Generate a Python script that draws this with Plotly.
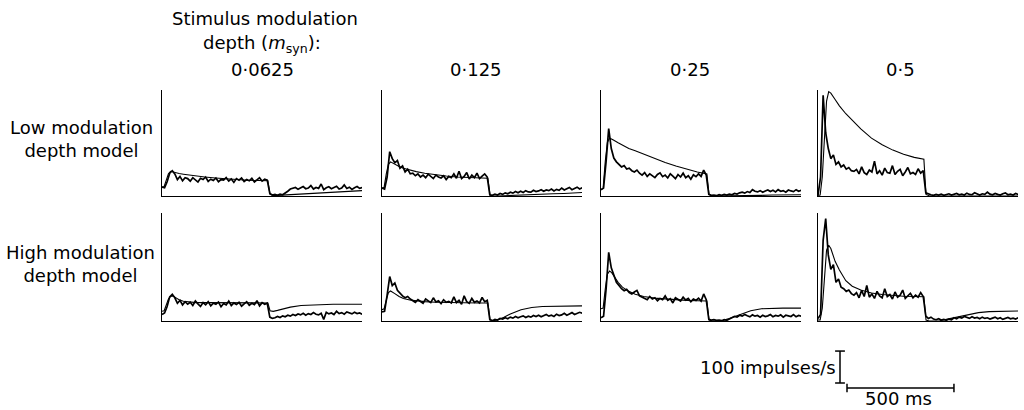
import plotly.graph_objects as go

W, H = 1024, 410

# ---------------- data ----------------
T_MS = list(range(0, 937, 12))  # 12-ms PSTH bins (79)
MODEL_T = [0, 10, 20, 30, 40, 50, 60, 80, 100, 130, 160, 200, 250, 300, 350,
           400, 450, 495, 505, 520, 540, 570, 600, 650, 700, 750, 800, 850, 900, 936]

DEPTHS = ["0·0625", "0·125", "0·25", "0·5"]
ROW_LABELS = ["Low modulation<br>depth model", "High modulation<br>depth model"]

# measured PSTHs (impulses/s), low-model row
N11 = [28, 26, 45, 72, 80, 70, 52, 62, 48, 58,
       55, 47, 58, 50, 44, 56, 52, 60, 46, 53, 49, 57, 45, 52, 50, 58, 47, 54, 43, 55,
       50, 57, 46, 52, 48, 56, 44, 51, 58, 47, 53, 50,
       8, 3, 5, 2, 6, 4, 9, 15, 22,
       24, 27, 21, 26, 30, 23, 25, 33, 22, 27, 24, 38, 20, 26, 29, 23, 27, 31, 22, 25,
       35, 24, 28, 21, 26, 30, 24, 27]
N12 = [25, 22, 60, 140, 118, 105, 112, 88, 95, 76, 85, 70,
       72, 64, 70, 60, 66, 58, 69, 62, 55, 66, 60, 57, 64, 52, 62, 58, 70, 56, 78, 55,
       62, 74, 54, 66, 58, 72, 55, 63, 70, 60,
       4, 2, 6, 3, 8, 5, 10, 7, 12, 9, 14, 10, 15, 11, 17, 13, 12, 18, 14, 16,
       20, 15, 19, 17, 22, 16, 21, 18, 25, 19, 23, 27, 20, 24, 28, 22, 26]
N13 = [20, 25, 110, 213, 150, 120, 108, 100, 92, 96, 85, 88, 80, 76, 82,
       72, 66, 74, 62, 70, 64, 58, 68, 73, 61, 66, 57, 70, 63, 55, 68, 60, 72, 58, 64,
       53, 67, 61, 70, 62, 82, 66,
       5, 2, 3, 1, 4, 2, 5, 3, 6, 4, 8, 6, 10, 12, 9, 14, 11, 20, 15, 13,
       17, 12, 16, 19, 14, 18, 13, 20, 15, 17, 12, 19, 16, 14, 20, 15, 18]
N14 = [3, 60, 318, 200, 150, 118, 130, 100, 108, 92, 98, 85, 90, 80,
       78, 84, 70, 92, 74, 68, 82, 76, 110, 70, 80, 66, 88, 74, 72, 96, 68, 78, 84, 64,
       76, 90, 70, 74, 68, 86, 72, 80,
       10, 6, 4, 2, 5, 3, 6, 2, 4, 7, 3, 5, 8, 4, 6, 3, 9, 5, 4, 10,
       6, 3, 7, 5, 12, 6, 4, 8, 5, 3, 7, 10, 4, 6, 3, 8, 5]
# measured PSTHs, high-model row
N21 = [20, 25, 45, 75, 83, 72, 55, 64, 50, 60, 52,
       58, 48, 62, 53, 45, 57, 50, 60, 47, 55, 52, 59, 44, 54, 50, 62, 48, 56, 51, 58,
       46, 53, 60, 49, 55, 51, 63, 47, 57, 52, 55,
       12, 8, 10, 14, 11, 16, 13, 18, 15, 20, 17, 22, 19, 24, 18, 23, 20, 26, 21, 19,
       24, 5, 27, 22, 25, 20, 30, 23, 26, 21, 28, 24, 22, 27, 23, 25, 21]
N22 = [28, 30, 80, 138, 110, 118, 95, 85, 78, 72, 76, 68,
       64, 58, 66, 60, 55, 68, 62, 57, 72, 59, 63, 54, 66, 58, 61, 56, 75, 57, 64, 52,
       78, 60, 55, 70, 58, 62, 56, 73, 60, 64,
       4, 1, 5, 3, 8, 6, 10, 7, 12, 9, 14, 10, 13, 16, 11, 15, 12, 17, 14, 18,
       13, 16, 20, 15, 18, 14, 21, 17, 19, 24, 18, 22, 26, 20, 23, 27, 24]
N23 = [10, 15, 100, 213, 165, 140, 120, 110, 100, 94, 98, 88, 84, 90, 95, 78,
       74, 70, 66, 76, 68, 72, 63, 70, 66, 78, 64, 69, 56, 72, 67, 62, 74, 65, 70, 60,
       68, 64, 71, 62, 84, 66,
       5, 3, 4, 2, 3, 1, 4, 2, 6, 10, 14, 12, 18, 15, 20, 16, 13, 19, 15, 17,
       12, 18, 14, 16, 20, 13, 17, 15, 19, 12, 18, 16, 14, 20, 13, 17, 15]
N24 = [8, 20, 250, 318, 205, 160, 175, 120, 130, 105, 100, 92, 96, 85,
       80, 88, 72, 95, 76, 110, 74, 84, 70, 92, 78, 72, 100, 76, 82, 68, 90, 74, 80, 96,
       70, 78, 86, 72, 80, 74, 88, 76,
       15, 8, 12, 6, 4, 7, 3, 5, 2, 6, 4, 10, 7, 12, 9, 14, 10, 8, 13, 9,
       11, 7, 12, 8, 10, 6, 9, 12, 7, 10, 5, 8, 11, 7, 9, 6, 10]

# model predictions (impulses/s) at MODEL_T
M11 = [28, 30, 50, 70, 78, 76, 74, 71, 69, 66, 63, 60, 57, 54, 52, 50, 49, 48, 5, 2,
       2, 3, 4, 6, 8, 10, 12, 14, 16, 17]
M12 = [25, 28, 70, 100, 108, 104, 100, 93, 88, 82, 77, 72, 67, 63, 60, 58, 57, 56, 3, 0,
       0, 1, 2, 3, 4, 5, 7, 8, 10, 11]
M13 = [20, 25, 110, 170, 183, 180, 176, 168, 160, 150, 143, 132, 118, 106, 95, 85, 76, 70, 5, 0,
       0, 0, 1, 1, 2, 2, 3, 3, 4, 4]
M14 = [2, 3, 60, 200, 300, 330, 325, 305, 285, 260, 238, 212, 183, 162, 145, 132, 122, 116, 5, 1,
       0, 0, 0, 0, 0, 0, 0, 0, 0, 0]
M21 = [30, 32, 50, 68, 76, 78, 74, 66, 61, 58, 57, 57, 57, 56, 56, 56, 56, 56, 32, 30,
       33, 38, 43, 48, 50, 51, 52, 52, 52, 52]
M22 = [35, 38, 65, 88, 93, 90, 85, 76, 70, 65, 62, 60, 58, 57, 57, 56, 56, 56, 5, 1,
       3, 12, 22, 35, 42, 45, 46, 47, 47, 47]
M23 = [38, 40, 100, 145, 155, 150, 140, 120, 105, 92, 83, 76, 71, 68, 66, 64, 63, 62, 3, 0,
       0, 2, 8, 20, 32, 38, 40, 40, 40, 40]
M24 = [3, 3, 40, 140, 220, 235, 225, 185, 158, 125, 108, 96, 87, 82, 79, 77, 76, 75, 3, 0,
       0, 1, 5, 12, 20, 26, 29, 30, 31, 31]

MEASURED = [[N11, N12, N13, N14], [N21, N22, N23, N24]]
MODEL = [[M11, M12, M13, M14], [M21, M22, M23, M24]]

SCALE_RATE = 100   # impulses/s
SCALE_TIME = 500   # ms

# ---------------- layout geometry (pixels) ----------------
X_MAX = 935.0
Y_MAX = 335.0
PANEL_LEFT = [162, 382, 601, 818]
PANEL_W = 200
ROW_TB = [(90, 196), (213, 321)]
ROW_H = 107

FONT = "DejaVu Sans"


def px_x(p):
    return p / W


def px_y(p):
    return 1 - p / H


fig = go.Figure()
layout = dict(width=W, height=H, margin=dict(l=0, r=0, t=0, b=0),
              paper_bgcolor="white", plot_bgcolor="white", showlegend=False)

k = 0
for r in range(2):
    top, bot = ROW_TB[r]
    for c in range(4):
        k += 1
        xa = "x" if k == 1 else f"x{k}"
        ya = "y" if k == 1 else f"y{k}"
        xl = "xaxis" if k == 1 else f"xaxis{k}"
        yl = "yaxis" if k == 1 else f"yaxis{k}"
        x0 = PANEL_LEFT[c]
        layout[xl] = dict(domain=[px_x(x0), px_x(x0 + PANEL_W)], range=[0, X_MAX],
                          anchor=ya, showline=True, linecolor="black", linewidth=1,
                          showgrid=False, zeroline=False, showticklabels=False, ticks="")
        layout[yl] = dict(domain=[px_y(bot), px_y(top)], range=[0, Y_MAX],
                          anchor=xa, showline=True, linecolor="black", linewidth=1,
                          showgrid=False, zeroline=False, showticklabels=False, ticks="")
        fig.add_trace(go.Scatter(x=MODEL_T, y=MODEL[r][c], mode="lines", xaxis=xa, yaxis=ya,
                                 line=dict(color="black", width=1.1), hoverinfo="skip"))
        fig.add_trace(go.Scatter(x=T_MS, y=MEASURED[r][c], mode="lines", xaxis=xa, yaxis=ya,
                                 line=dict(color="black", width=1.7), hoverinfo="skip"))

# scale-bar axis, same pixel scale as panels
SB_L, SB_R, SB_T, SB_B = 820, 1020, 340, 400
layout["xaxis9"] = dict(domain=[px_x(SB_L), px_x(SB_R)],
                        range=[0, X_MAX * (SB_R - SB_L) / PANEL_W], anchor="y9", visible=False)
layout["yaxis9"] = dict(domain=[px_y(SB_B), px_y(SB_T)],
                        range=[0, Y_MAX * (SB_B - SB_T) / ROW_H], anchor="x9", visible=False)
ms_per_px = X_MAX / PANEL_W
rate_per_px = Y_MAX / ROW_H
vb_x = (840 - SB_L) * ms_per_px
vb_y0 = (SB_B - 383) * rate_per_px
fig.add_trace(go.Scatter(x=[vb_x, vb_x], y=[vb_y0, vb_y0 + SCALE_RATE], mode="lines+markers",
                         xaxis="x9", yaxis="y9", line=dict(color="black", width=1.5),
                         marker=dict(symbol="line-ew-open", size=7, color="black",
                                     line=dict(width=1.5, color="black")), hoverinfo="skip"))
hb_x0 = (847 - SB_L) * ms_per_px
hb_y = (SB_B - 388) * rate_per_px
fig.add_trace(go.Scatter(x=[hb_x0, hb_x0 + SCALE_TIME], y=[hb_y, hb_y], mode="lines+markers",
                         xaxis="x9", yaxis="y9", line=dict(color="black", width=1.5),
                         marker=dict(symbol="line-ns-open", size=6, color="black",
                                     line=dict(width=1.5, color="black")), hoverinfo="skip"))

fig.update_layout(**layout)

ann = []


def txt(text, x, y, size=18, xanchor="center"):
    ann.append(dict(text=text, x=px_x(x), y=px_y(y), xref="paper", yref="paper",
                    xanchor=xanchor, yanchor="middle", showarrow=False, align="center",
                    font=dict(family=FONT, size=size, color="black")))


txt("Stimulus modulation", 265, 18)
txt("depth (<i>m</i><sub>syn</sub>):", 262, 44)
DEPTH_X = [262, 476, 690, 900]
for c in range(4):
    txt(DEPTHS[c], DEPTH_X[c], 69)
txt(ROW_LABELS[0], 81, 139)
txt(ROW_LABELS[1], 80, 264)
txt(f"{SCALE_RATE} impulses/s", 838, 367, xanchor="right")
txt(f"{SCALE_TIME} ms", 898, 398)
fig.update_layout(annotations=ann)

fig.write_html("out.html")
